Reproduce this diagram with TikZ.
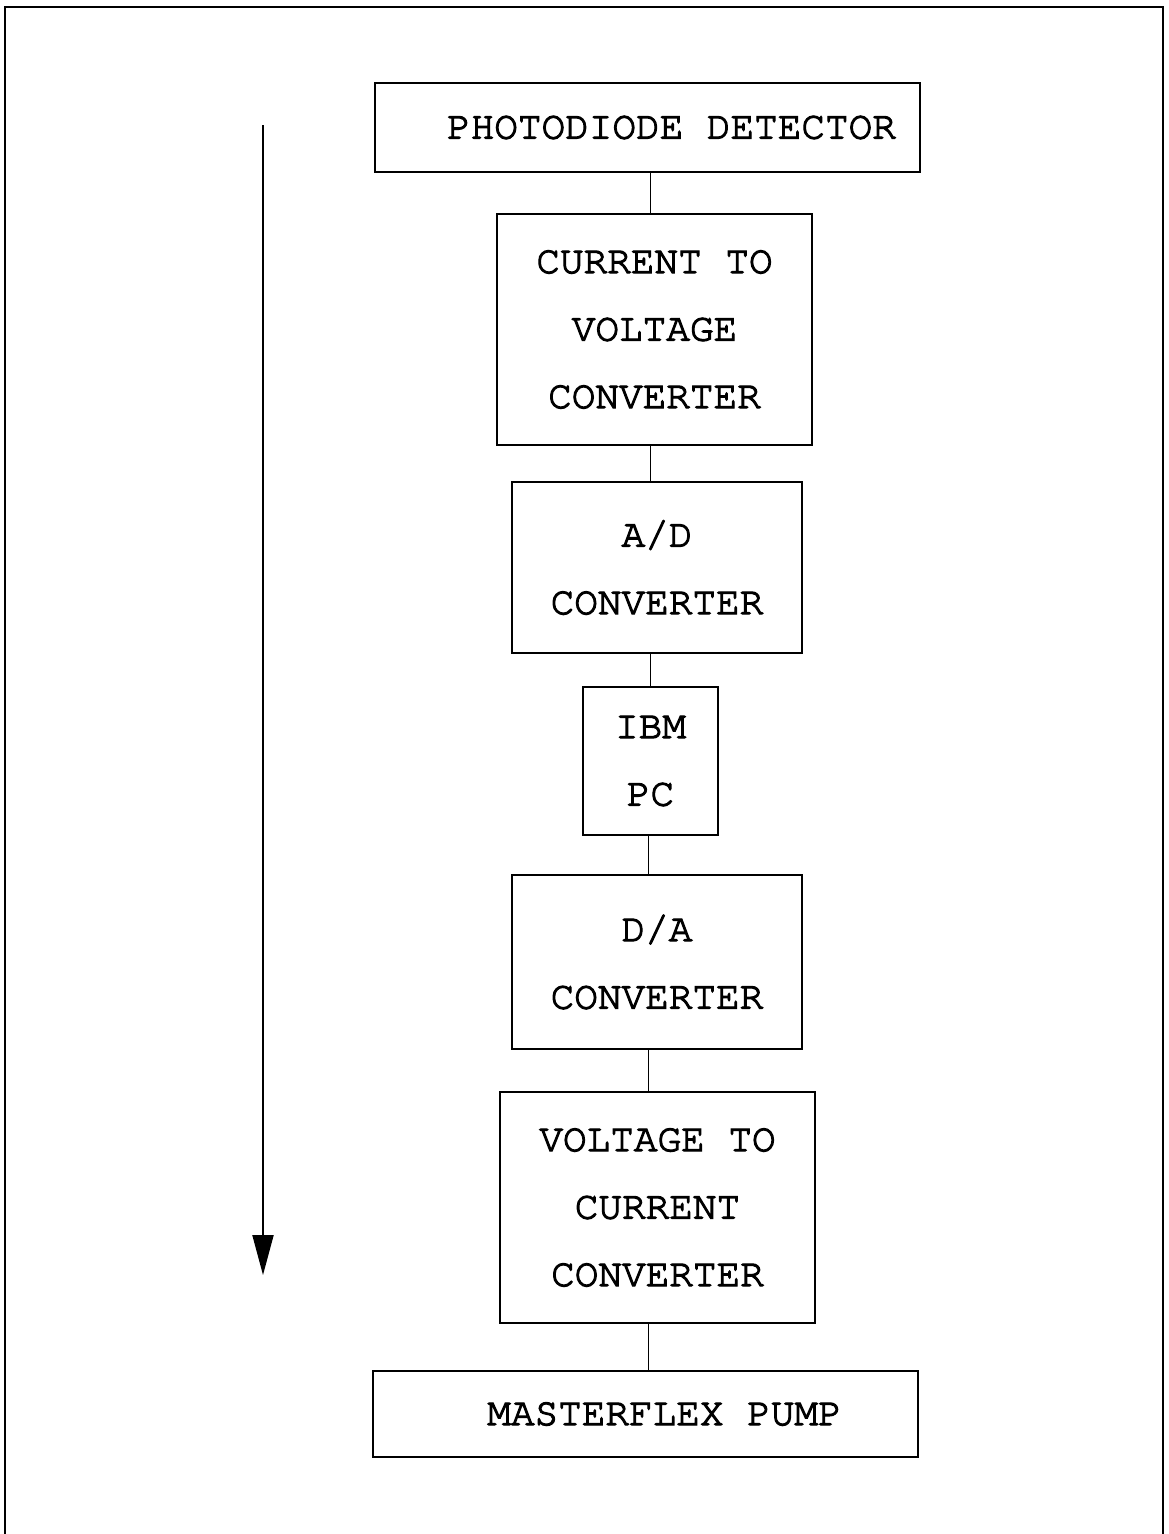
\documentclass[tikz,border=0pt]{standalone}
\usepackage{fontspec}
\newfontfamily\boxfont[FakeBold=3]{TeX Gyre Cursor}
\usetikzlibrary{arrows.meta, positioning}

\tikzset{
  block/.style={draw, line width=0.9pt, inner sep=0pt, align=center,
                font=\boxfont\fontsize{28}{48}\selectfont},
  link/.style={line width=0.7pt},
  flowarrow/.style={line width=0.9pt, -{Triangle[length=1cm, width=0.53cm]}}
}

\begin{document}
\begin{tikzpicture}[x=0.025cm, y=-0.025cm]
      \useasboundingbox (0,0) rectangle (1169,1534);
      % Frame
      \draw[line width=2pt] (5,1540) -- (5,7) -- (1163,7) -- (1163,1540);
      % Blocks
      \node[block, minimum width=13.625cm, minimum height=2.225cm] (detector) at (647.5,127.5) {\hspace*{1.2cm}PHOTODIODE DETECTOR};
      \node[block, minimum width=7.875cm, minimum height=5.775cm] (ivconv) at (654.5,329.5) {CURRENT TO\\VOLTAGE\\CONVERTER};
      \node[block, minimum width=7.25cm, minimum height=4.275cm] (adconv) at (657,567.5) {A/D\\CONVERTER};
      \node[block, minimum width=3.375cm, minimum height=3.7cm] (pc) at (650.5,761) {IBM\\PC};
      \node[block, minimum width=7.25cm, minimum height=4.35cm] (daconv) at (657,962) {D/A\\CONVERTER};
      \node[block, minimum width=7.875cm, minimum height=5.775cm] (viconv) at (657.5,1207.5) {VOLTAGE TO\\CURRENT\\CONVERTER};
      \node[block, minimum width=13.625cm, minimum height=2.15cm] (pump) at (645.5,1414) {\hspace*{0.95cm}MASTERFLEX PUMP};
      % Links
      \coordinate (upper) at (650,0);
      \coordinate (lower) at (648,0);
      \draw[link] (detector.south -| upper) -- (ivconv.north -| upper);
      \draw[link] (ivconv.south -| upper) -- (adconv.north -| upper);
      \draw[link] (adconv.south -| upper) -- (pc.north -| upper);
      \draw[link] (pc.south -| lower) -- (daconv.north -| lower);
      \draw[link] (daconv.south -| lower) -- (viconv.north -| lower);
      \draw[link] (viconv.south -| lower) -- (pump.north -| lower);
      % Signal direction
      \coordinate (flowtop) at (263,125);
      \coordinate (flowend) at (263,1275);
      \draw[flowarrow] (flowtop) -- (flowend);
\end{tikzpicture}
\end{document}
